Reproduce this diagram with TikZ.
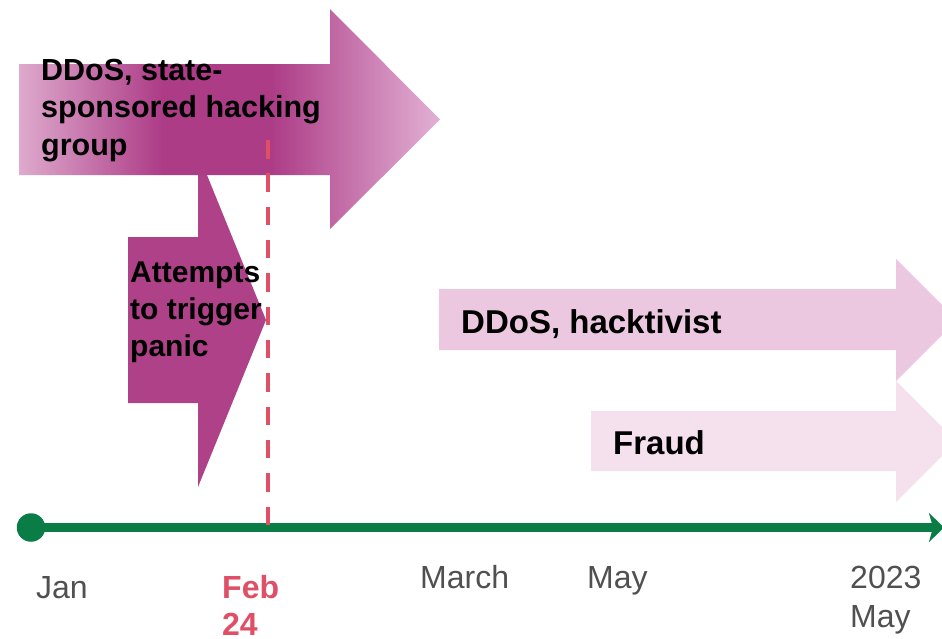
\documentclass[tikz,border=0pt]{standalone}
\usepackage{fontspec}
\setmainfont{Liberation Sans}
\usetikzlibrary{arrows.meta}
\definecolor{gl}{HTML}{DEAACD}
\definecolor{gd}{HTML}{AD3C87}
\definecolor{gr}{HTML}{E2B1D4}
\definecolor{panicc}{HTML}{AF4189}
\definecolor{hackc}{HTML}{ECC7E0}
\definecolor{fraudc}{HTML}{F5E1EE}
\definecolor{febred}{HTML}{DF4F66}
\definecolor{axisg}{HTML}{0A7D46}
\definecolor{lblgray}{HTML}{505050}
\pgfdeclarehorizontalshading{topgrad}{100bp}{color(0bp)=(gl); color(25bp)=(gl); color(42bp)=(gd); color(55bp)=(gd); color(75bp)=(gr); color(100bp)=(gr)}
\begin{document}
\begin{tikzpicture}[x=1pt,y=-1pt,
  boxtext/.style={inner sep=0pt, align=left, text=black, font=\bfseries\fontsize{30.5}{37.5}\selectfont},
  axlabel/.style={inner sep=0pt, anchor=base west, align=left, text=lblgray, font=\fontsize{32}{39}\selectfont},
  feblabel/.style={inner sep=0pt, anchor=base west, align=left, text=febred, font=\bfseries\fontsize{32}{38}\selectfont}]
\useasboundingbox (0,0) rectangle (942,638);
% panic arrow
\fill[panicc] (128,237) -- (198,237) -- (198,153) -- (266,320) -- (198,487) -- (198,403) -- (128,403) -- cycle;
% state-sponsored arrow
\shade[shading=topgrad] (19,64) -- (330,64) -- (330,9) -- (440,119.5) -- (330,229) -- (330,175) -- (19,175) -- cycle;
% hacktivist arrow
\fill[hackc] (439,289) -- (896,289) -- (896,259) -- (942,305) -- (942,335) -- (896,381) -- (896,350) -- (439,350) -- cycle;
% fraud arrow
\fill[fraudc] (591,411) -- (896,411) -- (896,381) -- (942,427) -- (942,456) -- (896,502) -- (896,471) -- (591,471) -- cycle;
% axis
\node[circle, fill=axisg, minimum size=28.5pt, inner sep=0pt] (start) at (31,527.5) {};
\coordinate (axend) at (944,527.5);
\draw[axisg, line width=9.5pt, -{Stealth[length=15pt,width=29pt,inset=4pt]}] (start.center) -- (axend);
% Feb 24 line
\coordinate (febtop) at (268,140);
\coordinate (febbot) at (268,527);
\draw[febred, line width=4pt, dash pattern=on 18.5pt off 14.83pt] (febtop) -- (febbot);
% texts
\node[boxtext, anchor=north west] (t1) at (41,57) {\rule{0pt}{23pt}DDoS, state-\\sponsored hacking\\group};
\node[boxtext, anchor=north west, font=\bfseries\fontsize{30}{37}\selectfont] (t2) at (130,259) {\rule{0pt}{23pt}Attempts\\to trigger\\panic};
\node[boxtext, anchor=base west, font=\bfseries\fontsize{33}{38}\selectfont] (t3) at (461,333) {DDoS, hacktivist};
\node[boxtext, anchor=base west, font=\bfseries\fontsize{33}{38}\selectfont] (t4) at (613,454) {Fraud};
\node[axlabel] (jan) at (36,598) {Jan};
\node[feblabel] (feb) at (222,598) {Feb};
\node[feblabel] (feb24) at (222,635) {24};
\node[axlabel] (march) at (420,588) {March};
\node[axlabel] (may) at (587,588) {May};
\node[axlabel] (y2023) at (850,588) {2023};
\node[axlabel] (may2) at (850,627) {May};
\end{tikzpicture}
\end{document}
